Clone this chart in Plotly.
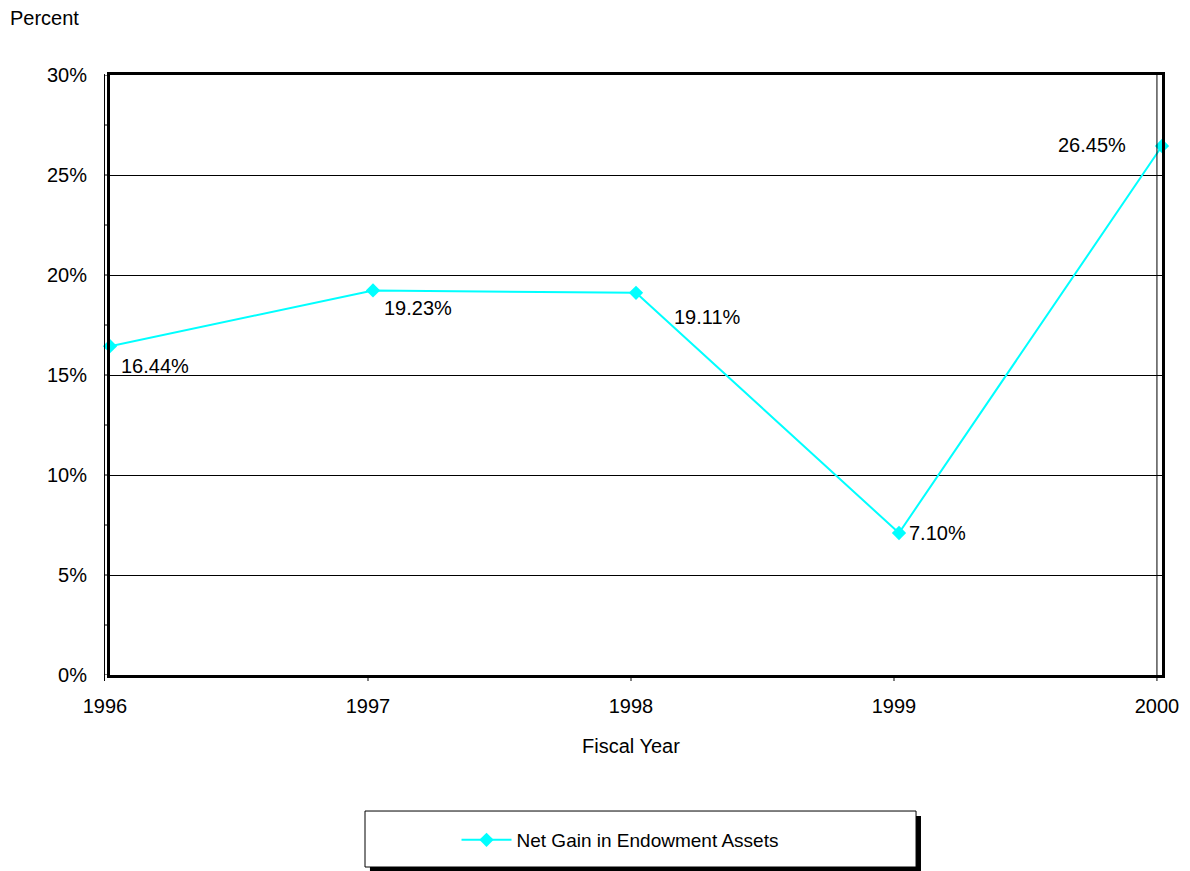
import plotly.graph_objects as go

years = [1996, 1997, 1998, 1999, 2000]
gain = [16.44, 19.23, 19.11, 7.10, 26.45]
labels = ["16.44%", "19.23%", "19.11%", "7.10%", "26.45%"]
series_name = "Net Gain in Endowment Assets"
yticks = [0, 5, 10, 15, 20, 25, 30]
ytick_text = ["0%", "5%", "10%", "15%", "20%", "25%", "30%"]
minor_ticks = [0, 2.5, 5, 7.5, 10, 12.5, 15, 17.5, 20, 22.5, 25, 27.5, 30]

# label offsets (pixels) relative to each point
offs = [(9, -20, "left"), (9, -18, "left"), (36, -24, "left"), (8, 0, "left"), (-34, 1, "right")]

FONT = "Liberation Sans, Arial, sans-serif"
CYAN = "#00FFFF"

fig = go.Figure()
fig.add_trace(go.Scatter(
    x=years, y=gain, mode="lines+markers", name=series_name,
    line=dict(color=CYAN, width=2),
    marker=dict(symbol="diamond", size=11, color=CYAN),
    cliponaxis=False,
))

for x, y, t, (dx, dy, anc) in zip(years, gain, labels, offs):
    fig.add_annotation(x=x, y=y, text=t, showarrow=False, xanchor=anc, yanchor="middle",
                       xshift=dx, yshift=dy, font=dict(size=20, color="black", family=FONT))

# small ticks on the left between thin axis line and frame
for v in minor_ticks:
    fig.add_shape(type="line", xref="paper", yref="y", x0=-0.0057, x1=0.0, y0=v, y1=v,
                  line=dict(color="black", width=1))

# thin inner/outer lines (left and right)
fig.add_shape(type="line", xref="paper", yref="paper", x0=-0.0052, x1=-0.0052, y0=-0.01, y1=1.0015,
              line=dict(color="black", width=1))
fig.add_shape(type="line", xref="paper", yref="paper", x0=0.9952, x1=0.9952, y0=-0.01, y1=1.0015,
              line=dict(color="black", width=1))
# x ticks shifted slightly left
for yr in years[1:-1]:
    fig.add_shape(type="line", xref="x", xsizemode="pixel", xanchor=yr, x0=-5, x1=-5,
                  yref="paper", y0=0, y1=-0.01, line=dict(color="black", width=1))

# Legend box with shadow
fig.add_shape(type="rect", xref="paper", yref="paper", x0=0.2471, x1=0.7709, y0=-0.235, y1=-0.3283,
              line=dict(color="black", width=0), fillcolor="black", layer="below")
fig.add_shape(type="rect", xref="paper", yref="paper", x0=0.2424, x1=0.7662, y0=-0.2267, y1=-0.32,
              line=dict(color="black", width=1), fillcolor="white", layer="below")

fig.update_layout(
    width=1190, height=871,
    margin=dict(l=110, r=28, t=75, b=196),
    paper_bgcolor="white", plot_bgcolor="white",
    font=dict(family=FONT, size=20, color="black"),
    showlegend=True,
    legend=dict(x=0.4848, y=-0.275, xanchor="center", yanchor="middle", itemwidth=50,
                bgcolor="rgba(0,0,0,0)", borderwidth=0, font=dict(size=19)),
    xaxis=dict(range=[1996, 2000], tickvals=years, ticktext=[str(y) for y in years],
               showgrid=False, zeroline=False, showline=True, mirror=True,
               linecolor="black", linewidth=3, ticks="", ticklabelshift=-5,
               ticklabelstandoff=11, tickfont=dict(size=20)),
    yaxis=dict(range=[0, 30], tickvals=yticks, ticktext=ytick_text,
               showgrid=True, gridcolor="black", gridwidth=1, zeroline=False,
               showline=True, mirror=True, linecolor="black", linewidth=3,
               ticks="", ticklabelstandoff=16, tickfont=dict(size=20)),
)

fig.add_annotation(xref="paper", yref="paper", x=-0.097, y=1.095, xanchor="left", yanchor="middle",
                   text="Percent", showarrow=False, font=dict(size=20, family=FONT))
fig.add_annotation(xref="paper", yref="paper", x=0.4952, y=-0.118, xanchor="center", yanchor="middle",
                   text="Fiscal Year", showarrow=False, font=dict(size=20, family=FONT))

fig.write_html("out.html", config={"displayModeBar": False},
               post_script="document.body.style.margin='0';")
